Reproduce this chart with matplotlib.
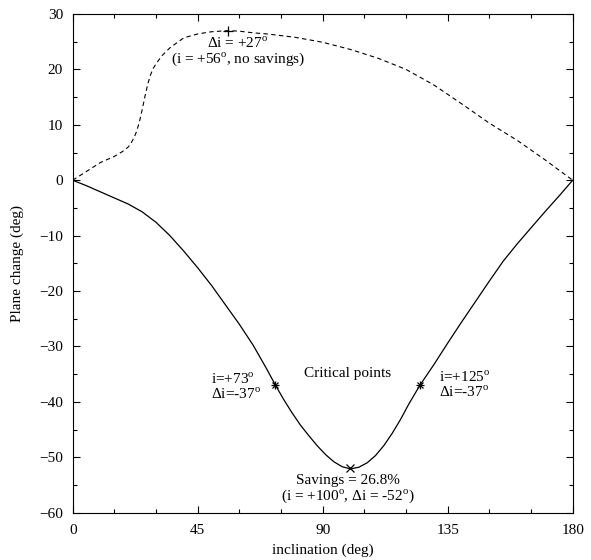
import matplotlib
matplotlib.use("Agg")
import matplotlib.pyplot as plt

plt.rcParams['font.family'] = ['Liberation Serif', 'DejaVu Serif']
plt.rcParams['mathtext.fontset'] = 'custom'
plt.rcParams['mathtext.rm'] = 'Liberation Serif'
plt.rcParams['font.size'] = 11

# solid curve: plane change (deg) vs inclination (deg)
incl_solid = [0, 5, 10, 15, 20, 25, 30, 35, 40, 45, 50, 55, 60, 65, 70, 73, 76, 79,
              82, 85, 88, 91, 94, 97, 100, 103, 106, 109, 112, 115, 118, 121, 125,
              130, 135, 140, 145, 150, 155, 160, 165, 170, 175, 180]
dplane_solid = [0, -1.0, -2.1, -3.2, -4.3, -5.7, -7.6, -10.0, -12.8, -15.8, -19.0,
                -22.5, -26.0, -29.8, -34.2, -37.0, -39.6, -42.0, -44.2, -46.1, -47.9,
                -49.5, -50.8, -51.7, -52.1, -51.8, -51.0, -49.7, -47.9, -45.7, -43.2,
                -40.4, -37.0, -33.3, -29.4, -25.6, -21.9, -18.2, -14.6, -11.5, -8.6,
                -5.7, -2.9, 0]

# dashed curve
incl_dash = [0, 5, 10, 15, 18, 20, 21, 22, 23, 24, 25, 26, 27, 28, 29, 30, 32, 35,
             40, 45, 50, 56, 60, 65, 70, 80, 90, 100, 110, 120, 130, 140, 150, 160,
             170, 180]
dplane_dash = [0, 1.6, 3.2, 4.3, 5.2, 6.0, 6.7, 7.6, 8.8, 10.5, 12.7, 15.1, 17.3,
               19.0, 20.2, 21.0, 22.4, 23.9, 25.7, 26.4, 26.8, 27.0, 26.9, 26.6,
               26.4, 25.8, 24.9, 23.6, 22.0, 20.0, 17.2, 13.8, 10.3, 7.2, 3.7, 0]

# marked points
max_pt = (56, 27)
crit_i = [73, 125]
crit_d = [-37, -37]
min_pt = (100, -52)

fig = plt.figure(figsize=(5.91, 5.60), dpi=100)
ax = fig.add_axes([0.123, 0.0845, 0.846, 0.8905])

ax.plot(incl_dash, dplane_dash, color='black', lw=0.8, dashes=(4, 3))
ax.plot(incl_solid, dplane_solid, color='black', lw=0.9)

ax.plot([max_pt[0]], [max_pt[1]], marker='+', color='black', ms=7, mew=0.9)
ax.plot(crit_i, crit_d, ls='none', marker='+', color='black', ms=6, mew=0.9)
ax.plot(crit_i, crit_d, ls='none', marker='x', color='black', ms=5, mew=0.9)
ax.plot([min_pt[0]], [min_pt[1]], marker='x', color='black', ms=6, mew=0.9)

ax.text(59.5, 23.2, 'Δi = +27$^{\\mathrm{o}}$\n(i = +56$^{\\mathrm{o}}$, no savings)',
        ha='center', va='center', multialignment='center', linespacing=1.0)
ax.text(49.9, -37.3, 'i=+73$^{\\mathrm{o}}$\nΔi=-37$^{\\mathrm{o}}$',
        ha='left', va='center', multialignment='left', linespacing=1.0)
ax.text(132, -36.9, 'i=+125$^{\\mathrm{o}}$\nΔi=-37$^{\\mathrm{o}}$',
        ha='left', va='center', multialignment='left', linespacing=1.0)
ax.text(99, -34.9, 'Critical points', ha='center', va='center')
ax.text(99, -55.8, 'Savings = 26.8%\n(i = +100$^{\\mathrm{o}}$, Δi = -52$^{\\mathrm{o}}$)',
        ha='center', va='center', multialignment='center', linespacing=1.0)

ax.set_xlim(0, 180)
ax.set_ylim(-60, 30)
ax.set_xticks([0, 45, 90, 135, 180])
ax.set_xticks(range(0, 181, 15), minor=True)
ax.set_yticks(range(-60, 31, 10))
ax.set_yticks(range(-60, 31, 5), minor=True)
ax.tick_params(which='both', direction='in', top=True, right=True, width=0.8)
ax.tick_params(which='major', length=5)
ax.tick_params(axis='x', which='major', pad=8)
ax.tick_params(axis='y', which='major', pad=7)
ax.tick_params(which='minor', length=3)
for s in ax.spines.values():
    s.set_linewidth(0.8)

ax.set_xlabel('inclination (deg)', labelpad=5)
ax.set_ylabel('Plane change (deg)', labelpad=11)

fig.savefig('out.png', dpi=100)
